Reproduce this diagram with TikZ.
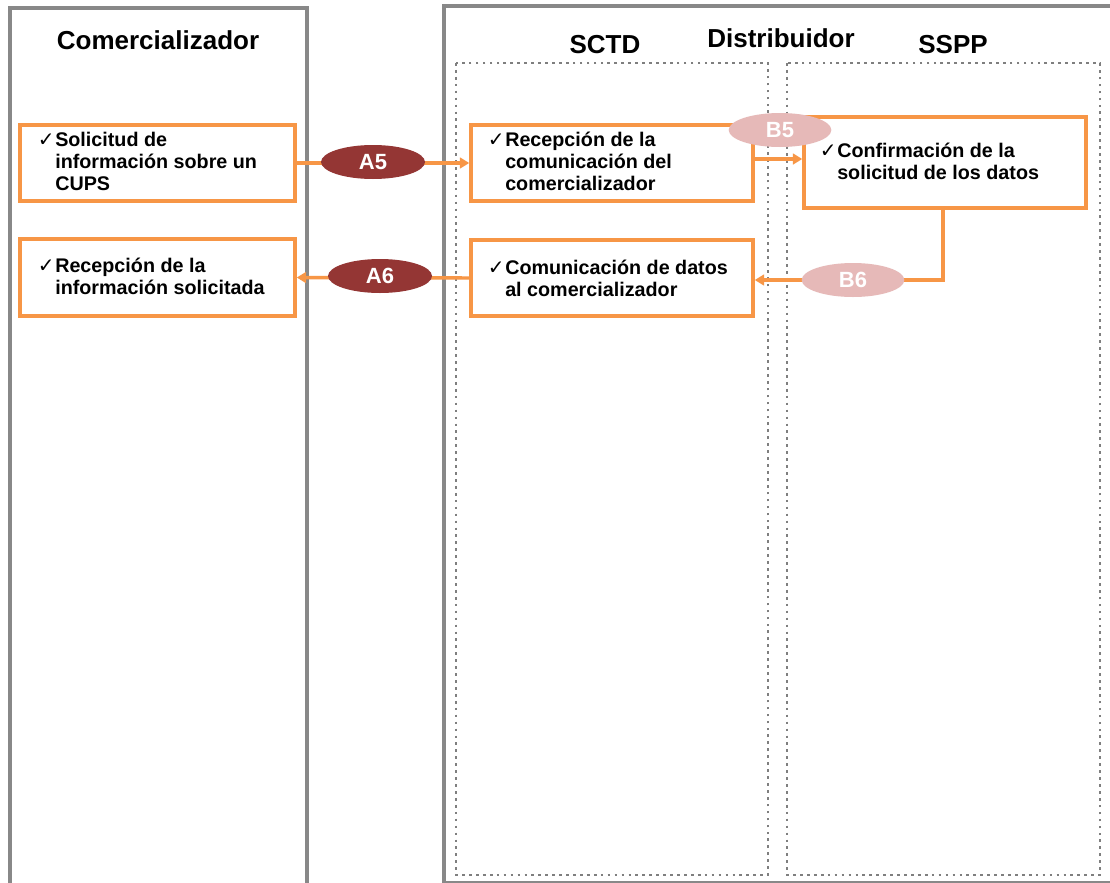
\documentclass[tikz,border=0pt]{standalone}
\usepackage{fontspec}
\setmainfont{Liberation Sans}
\newfontfamily\ckfont{DejaVu Sans}
\usetikzlibrary{shapes.geometric,arrows.meta}
\definecolor{frameg}{HTML}{888888}
\definecolor{dotg}{HTML}{7F7F7F}
\definecolor{orng}{HTML}{F79646}
\definecolor{dred}{HTML}{943634}
\definecolor{pnk}{HTML}{E6B9B8}
\newcommand{\ck}{\llap{{\ckfont\fontsize{15pt}{15pt}\selectfont ✓}\hspace{0.5pt}}}
\tikzset{
  frame/.style={draw=frameg, line width=2.6pt},
  dotbox/.style={draw=dotg, line width=2pt, dash pattern=on 2pt off 3.2pt},
  title/.style={font=\bfseries\fontsize{19.5pt}{21pt}\selectfont, inner sep=0pt},
  obox/.style={draw=orng, line width=2.6pt, fill=white, inner sep=0pt},
  btext/.style={font=\bfseries\fontsize{14.8pt}{16.5pt}\selectfont, align=left, inner sep=0pt, anchor=west},
  arr/.style={draw=orng, line width=2.6pt, -{Triangle[length=7pt,width=8pt]}},
  ovA/.style={ellipse, fill=dred, minimum width=78pt, minimum height=25.5pt, inner sep=0pt, text=white, font=\bfseries\fontsize{16.5pt}{16.5pt}\selectfont},
  ovB/.style={ellipse, fill=pnk, minimum width=77pt, minimum height=25.5pt, inner sep=0pt, text=white, font=\bfseries\fontsize{16.5pt}{16.5pt}\selectfont}
}
\begin{document}
\begin{tikzpicture}[x=0.75pt,y=-0.75pt]
\useasboundingbox (0,0) rectangle (1110,882);
\clip (0,0) rectangle (1110,882);
\fill[white] (0,0) rectangle (1110,882);
% lanes
\draw[frame] (10,900) -- (10,8) -- (307,8) -- (307,900);
\draw[frame] (1130,882.5) -- (444,882.5) -- (444,6) -- (1130,6);
\draw[dotbox] (456,63) rectangle (768,875);
\draw[dotbox] (787,63) rectangle (1100,875);
% titles
\node[title] (tcom) at (158,40) {Comercializador};
\node[title] (tdis) at (781,38) {Distribuidor};
\node[title] (tsctd) at (605,45) {SCTD};
\node[title] (tsspp) at (953,45) {SSPP};
% boxes
\node[obox, minimum width=206.25pt, minimum height=57pt] (b1) at (157.5,163) {};
\node[obox, minimum width=206.25pt, minimum height=57.5pt] (b2) at (157.5,277.5) {};
\node[obox, minimum width=211.5pt, minimum height=57pt] (b3) at (612,163) {};
\node[obox, minimum width=211.5pt, minimum height=57pt] (b4) at (612,278) {};
\node[obox, minimum width=211.5pt, minimum height=68.25pt] (b5) at (945,162.5) {};
\node[btext] (t1) at (55,161) {\ck Solicitud de\\información sobre un\\CUPS};
\node[btext] (t2) at (55,276) {\ck Recepción de la\\información solicitada};
\node[btext] (t3) at (505,161) {\ck Recepción de la\\comunicación del\\comercializador};
\node[btext] (t4) at (505,278) {\ck Comunicación de datos\\al comercializador};
\node[btext] (t5) at (837,161) {\ck Confirmación de la\\solicitud de los datos};
% connectors
\draw[arr] (b1.east) -- (b3.west);
\draw[arr] (b4.west) -- (b2.east);
\draw[arr] ([yshift=3pt]b3.east) -- ([yshift=3pt]b3.east -| b5.west);
\draw[arr] ([xshift=-1.5pt]b5.south) |- ([yshift=-1.5pt]b4.east);
% labels
\node[ovA] (a5) at (373,162) {A5};
\node[ovA] (a6) at (380,276) {A6};
\node[ovB] (bb5) at (780,130) {B5};
\node[ovB] (bb6) at (853,280) {B6};
\end{tikzpicture}
\end{document}
